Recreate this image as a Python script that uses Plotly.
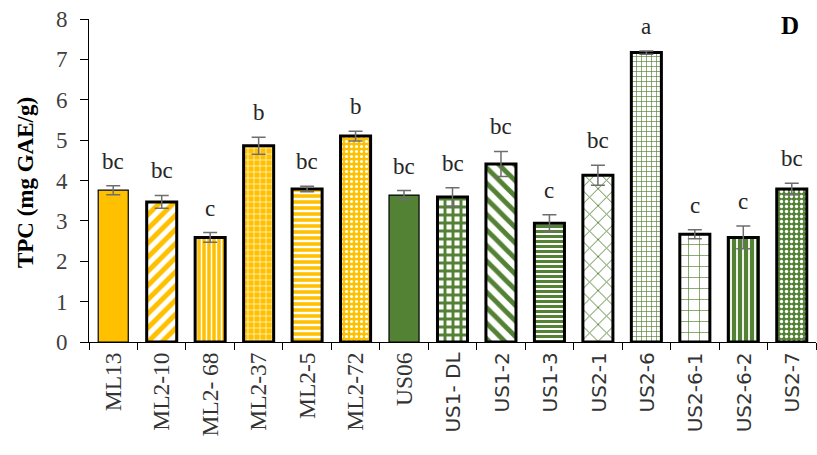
import plotly.graph_objects as go

# Cultivar / treatment labels
samples = ["ML13", "ML2-10", "ML2- 68", "ML2-37", "ML2-5", "ML2-72", "US06",
           "US1- DL", "US1-2", "US1-3", "US2-1", "US2-6", "US2-6-1", "US2-6-2", "US2-7"]
# Total phenolic content (mg GAE/g) and standard errors
tpc = [3.76, 3.47, 2.59, 4.86, 3.79, 5.10, 3.64, 3.59, 4.41, 2.94, 4.13, 7.17, 2.67, 2.59, 3.79]
tpc_err = [0.11, 0.16, 0.12, 0.21, 0.07, 0.12, 0.11, 0.23, 0.31, 0.21, 0.25, 0.04, 0.11, 0.28, 0.14]
# Significance groups
letters = ["bc", "bc", "c", "b", "bc", "b", "bc", "bc", "bc", "c", "bc", "a", "c", "c", "bc"]
# Group of each sample (ML = yellow, US = green)
groups = ["ML"] * 6 + ["US"] * 9

YELLOW = "#FFC000"
GREEN = "#548235"
WHITE = "#FFFFFF"
group_color = {"ML": YELLOW, "US": GREEN}

# Fill pattern for each bar: (shape, foreground, background, size, solidity)
patterns = [
    ("", YELLOW, YELLOW, 8, 0.3),
    ("/", YELLOW, WHITE, 10, 0.5),
    ("|", WHITE, YELLOW, 5, 0.3),
    ("+", WHITE, YELLOW, 6, 0.2),
    ("-", YELLOW, WHITE, 6, 0.6),
    (".", WHITE, YELLOW, 5, 0.3),
    ("", GREEN, GREEN, 8, 0.3),
    ("+", GREEN, WHITE, 8, 0.6),
    ("\\", GREEN, WHITE, 11, 0.45),
    ("-", GREEN, WHITE, 5, 0.6),
    ("x", GREEN, WHITE, 12, 0.15),
    ("+", GREEN, WHITE, 5, 0.25),
    ("+", GREEN, WHITE, 11, 0.12),
    ("|", GREEN, WHITE, 6, 0.7),
    (".", WHITE, GREEN, 5, 0.35),
]

# First labels in serif, the rest in sans
serif_n = 7
tick_text = []
for i, s in enumerate(samples):
    if i < serif_n:
        tick_text.append(s)
    else:
        tick_text.append(f'<span style="font-family:DejaVu Sans;font-size:20px">{s}</span>')

fig = go.Figure()
for g in ["ML", "US"]:
    idx = [i for i, gg in enumerate(groups) if gg == g]
    pats = [patterns[i] for i in idx]
    fig.add_trace(go.Bar(
        x=[samples[i] for i in idx],
        y=[tpc[i] for i in idx],
        marker=dict(
            color=group_color[g],
            line=dict(color="black", width=[1.2 if p[0] == "" else 3 for p in pats]),
            pattern=dict(
                shape=[p[0] for p in pats],
                fgcolor=[p[1] for p in pats],
                bgcolor=[p[2] for p in pats],
                size=[p[3] for p in pats],
                solidity=[p[4] for p in pats],
                fillmode="replace",
            ),
        ),
        error_y=dict(type="data", array=[tpc_err[i] for i in idx], visible=True,
                     color="#6E6E6E", thickness=1.5, width=7),
        showlegend=False,
    ))

annotations = []
for s, v, e, L in zip(samples, tpc, tpc_err, letters):
    annotations.append(dict(
        x=s, y=v + e, text=L, showarrow=False, xanchor="center", yanchor="bottom",
        yshift=10, font=dict(family="Liberation Serif", size=23, color="#262626"),
    ))
annotations.append(dict(
    x=0.964, y=0.981, xref="paper", yref="paper", text="<b>D</b>", showarrow=False,
    xanchor="center", yanchor="middle",
    font=dict(family="Liberation Serif", size=25, color="black"),
))
annotations.append(dict(
    x=-0.088, y=0.492, xref="paper", yref="paper", text="<b>TPC (mg GAE/g)</b>",
    showarrow=False, textangle=-90, xanchor="center", yanchor="middle",
    font=dict(family="Liberation Serif", size=23, color="black"),
))

fig.update_layout(
    width=817, height=455,
    margin=dict(l=89, r=1, t=19, b=113),
    paper_bgcolor="white", plot_bgcolor="white",
    barmode="overlay", bargap=0.38,
    annotations=annotations,
    font=dict(family="Liberation Serif", size=23, color="#333333"),
)
fig.update_xaxes(
    type="category", categoryorder="array", categoryarray=samples,
    tickvals=samples, ticktext=tick_text, tickangle=-90,
    tickson="boundaries", ticks="outside", ticklen=7, tickcolor="black",
    showline=True, linecolor="black", linewidth=1, showgrid=False,
    tickfont=dict(family="Liberation Serif", size=23.5, color="#333333"),
    automargin=False,
)
fig.update_yaxes(
    range=[0, 8], dtick=1, ticks="outside", ticklen=8, tickcolor="black",
    showline=True, linecolor="black", linewidth=1, showgrid=False, zeroline=False,
    tickfont=dict(family="Liberation Serif", size=23, color="#404040"),
    ticklabelstandoff=8, automargin=False,
)

fig.write_html("out.html")
